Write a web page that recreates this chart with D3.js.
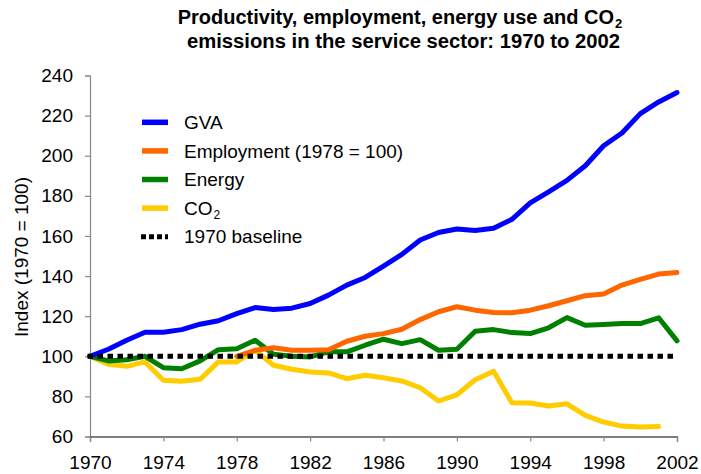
<!DOCTYPE html>
<html>
<head>
<meta charset="utf-8">
<script src="https://cdn.jsdelivr.net/npm/d3@7"></script>
<style>
  html, body { margin: 0; padding: 0; background: #fff; }
  svg { display: block; }
  text { font-family: "Liberation Sans", Arial, sans-serif; fill: #000; }
</style>
</head>
<body>
<svg id="chart" width="701" height="474"></svg>
<script>
const years = d3.range(1970, 2003);
const gva = [100, 103.5, 108, 112, 112, 113.3, 116, 117.7, 121.3, 124.3, 123.3, 124, 126.3, 130.5, 135.5, 139.3, 145, 150.8, 158, 161.7, 163.5, 162.7, 163.8, 168.3, 176.5, 182, 187.7, 195, 205, 211.3, 221, 226.8, 231.5];
const employmentYears = d3.range(1978, 2003);
const employment = [100, 103, 104.3, 103, 103, 103.3, 107.5, 110, 111.3, 113.5, 118.3, 122.2, 124.7, 123, 121.8, 121.7, 123, 125.2, 127.7, 130.2, 131, 135.5, 138.3, 141, 141.8];
const energy = [100, 97.7, 98.3, 100, 94.3, 93.8, 97.7, 103.3, 103.8, 108, 101, 100, 99.7, 102.2, 102.2, 105.5, 108.5, 106.3, 108.3, 103, 103.5, 112.5, 113.3, 111.8, 111.3, 114.2, 119.3, 115.5, 115.8, 116.3, 116.3, 119.2, 107.7];
const co2Years = d3.range(1970, 2002);
const co2 = [100, 96, 95, 97.2, 88, 87.5, 88.5, 97.2, 97.2, 103, 95.5, 93.5, 92.2, 91.7, 88.8, 90.5, 89.3, 87.7, 84.3, 77.7, 80.8, 88.3, 92.5, 76.8, 76.7, 75.2, 76.3, 70.5, 67.2, 65.2, 64.7, 65];
const baselineYears = [1970, 2002];
const baseline = [100, 100];
const yTicks = [60, 80, 100, 120, 140, 160, 180, 200, 220, 240];
const xTicks = [1970, 1974, 1978, 1982, 1986, 1990, 1994, 1998, 2002];

const svg = d3.select("#chart");
const x = d3.scaleLinear().domain([1970, 2002]).range([90, 677]);
const y = d3.scaleLinear().domain([60, 240]).range([436.5, 75.5]);

// Title
const title = svg.append("g").attr("font-weight", "bold")
  .style("font-family", "'Liberation Sans Narrow', 'Arial Narrow', 'Liberation Sans', sans-serif")
  .attr("font-size", 20);
const t1 = title.append("text").attr("x", 400).attr("y", 24).attr("text-anchor", "middle");
t1.append("tspan").text("Productivity, employment, energy use and CO");
t1.append("tspan").attr("font-size", 13).attr("dx", 1).attr("dy", 4).text("2");
title.append("text").attr("x", 187).attr("y", 48)
  .attr("textLength", 433).attr("lengthAdjust", "spacingAndGlyphs")
  .text("emissions in the service sector: 1970 to 2002");

// Axes
const yAxis = svg.append("g").attr("transform", `translate(${x(1970)},0)`)
  .call(d3.axisLeft(y).tickValues(yTicks).tickSize(5).tickPadding(12).tickFormat(d3.format("d")));
yAxis.select(".domain").attr("stroke", "#888").attr("stroke-width", 1.2);
yAxis.selectAll(".tick line").attr("stroke", "#888").attr("stroke-width", 1.2);
yAxis.selectAll(".tick text").attr("font-size", 19).style("font-family", "'Liberation Sans', Arial, sans-serif");

const xAxis = svg.append("g").attr("transform", `translate(0,${y(60)})`)
  .call(d3.axisBottom(x).tickValues(xTicks).tickSize(5).tickPadding(14).tickFormat(d3.format("d")));
xAxis.select(".domain").attr("stroke", "#000").attr("stroke-width", 1.2);
xAxis.selectAll(".tick line").attr("stroke", "#888").attr("stroke-width", 1.2);
xAxis.selectAll(".tick text").attr("font-size", 19).style("font-family", "'Liberation Sans', Arial, sans-serif");

// Y axis title
svg.append("text").attr("transform", `translate(28,257) rotate(-90)`)
  .attr("text-anchor", "middle").attr("font-size", 19).text("Index (1970 = 100)");

const line = d3.line().x(d => x(d[0])).y(d => y(d[1]));
const series = [
  { name: "CO2", xs: co2Years, ys: co2, color: "#FFCC00" },
  { name: "Energy", xs: years, ys: energy, color: "#008000" },
  { name: "Employment", xs: employmentYears, ys: employment, color: "#FF6600" },
  { name: "GVA", xs: years, ys: gva, color: "#0000FF" }
];
series.forEach(s => {
  svg.append("path").datum(s.xs.map((v, i) => [v, s.ys[i]]))
    .attr("d", line).attr("fill", "none").attr("stroke", s.color)
    .attr("stroke-width", 5).attr("stroke-linejoin", "round").attr("stroke-linecap", "round");
});
svg.append("path").datum(baselineYears.map((v, i) => [v, baseline[i]]))
  .attr("d", line).attr("fill", "none").attr("stroke", "#000")
  .attr("stroke-width", 5).attr("stroke-dasharray", "0.5,9.5").attr("stroke-linecap", "square");

// Legend
const legendItems = [
  { label: "GVA", color: "#0000FF" },
  { label: "Employment (1978 = 100)", color: "#FF6600" },
  { label: "Energy", color: "#008000" },
  { label: "CO", sub: "2", color: "#FFCC00" },
  { label: "1970 baseline", color: "#000", dash: true }
];
const lg = svg.append("g");
legendItems.forEach((d, i) => {
  const yy = 122.3 + i * 28.6;
  const l = lg.append("line").attr("x1", 142).attr("x2", 168).attr("y1", yy).attr("y2", yy)
    .attr("stroke", d.color).attr("stroke-width", 5.5);
  if (d.dash) l.attr("stroke-dasharray", "5,3").attr("stroke-width", 5).attr("x1", 141);
  const t = lg.append("text").attr("x", 184).attr("y", yy + 6.7).attr("font-size", 19);
  t.append("tspan").text(d.label);
  if (d.sub) t.append("tspan").attr("font-size", 12).attr("dx", 1).attr("dy", 4).text(d.sub);
});
</script>
</body>
</html>
